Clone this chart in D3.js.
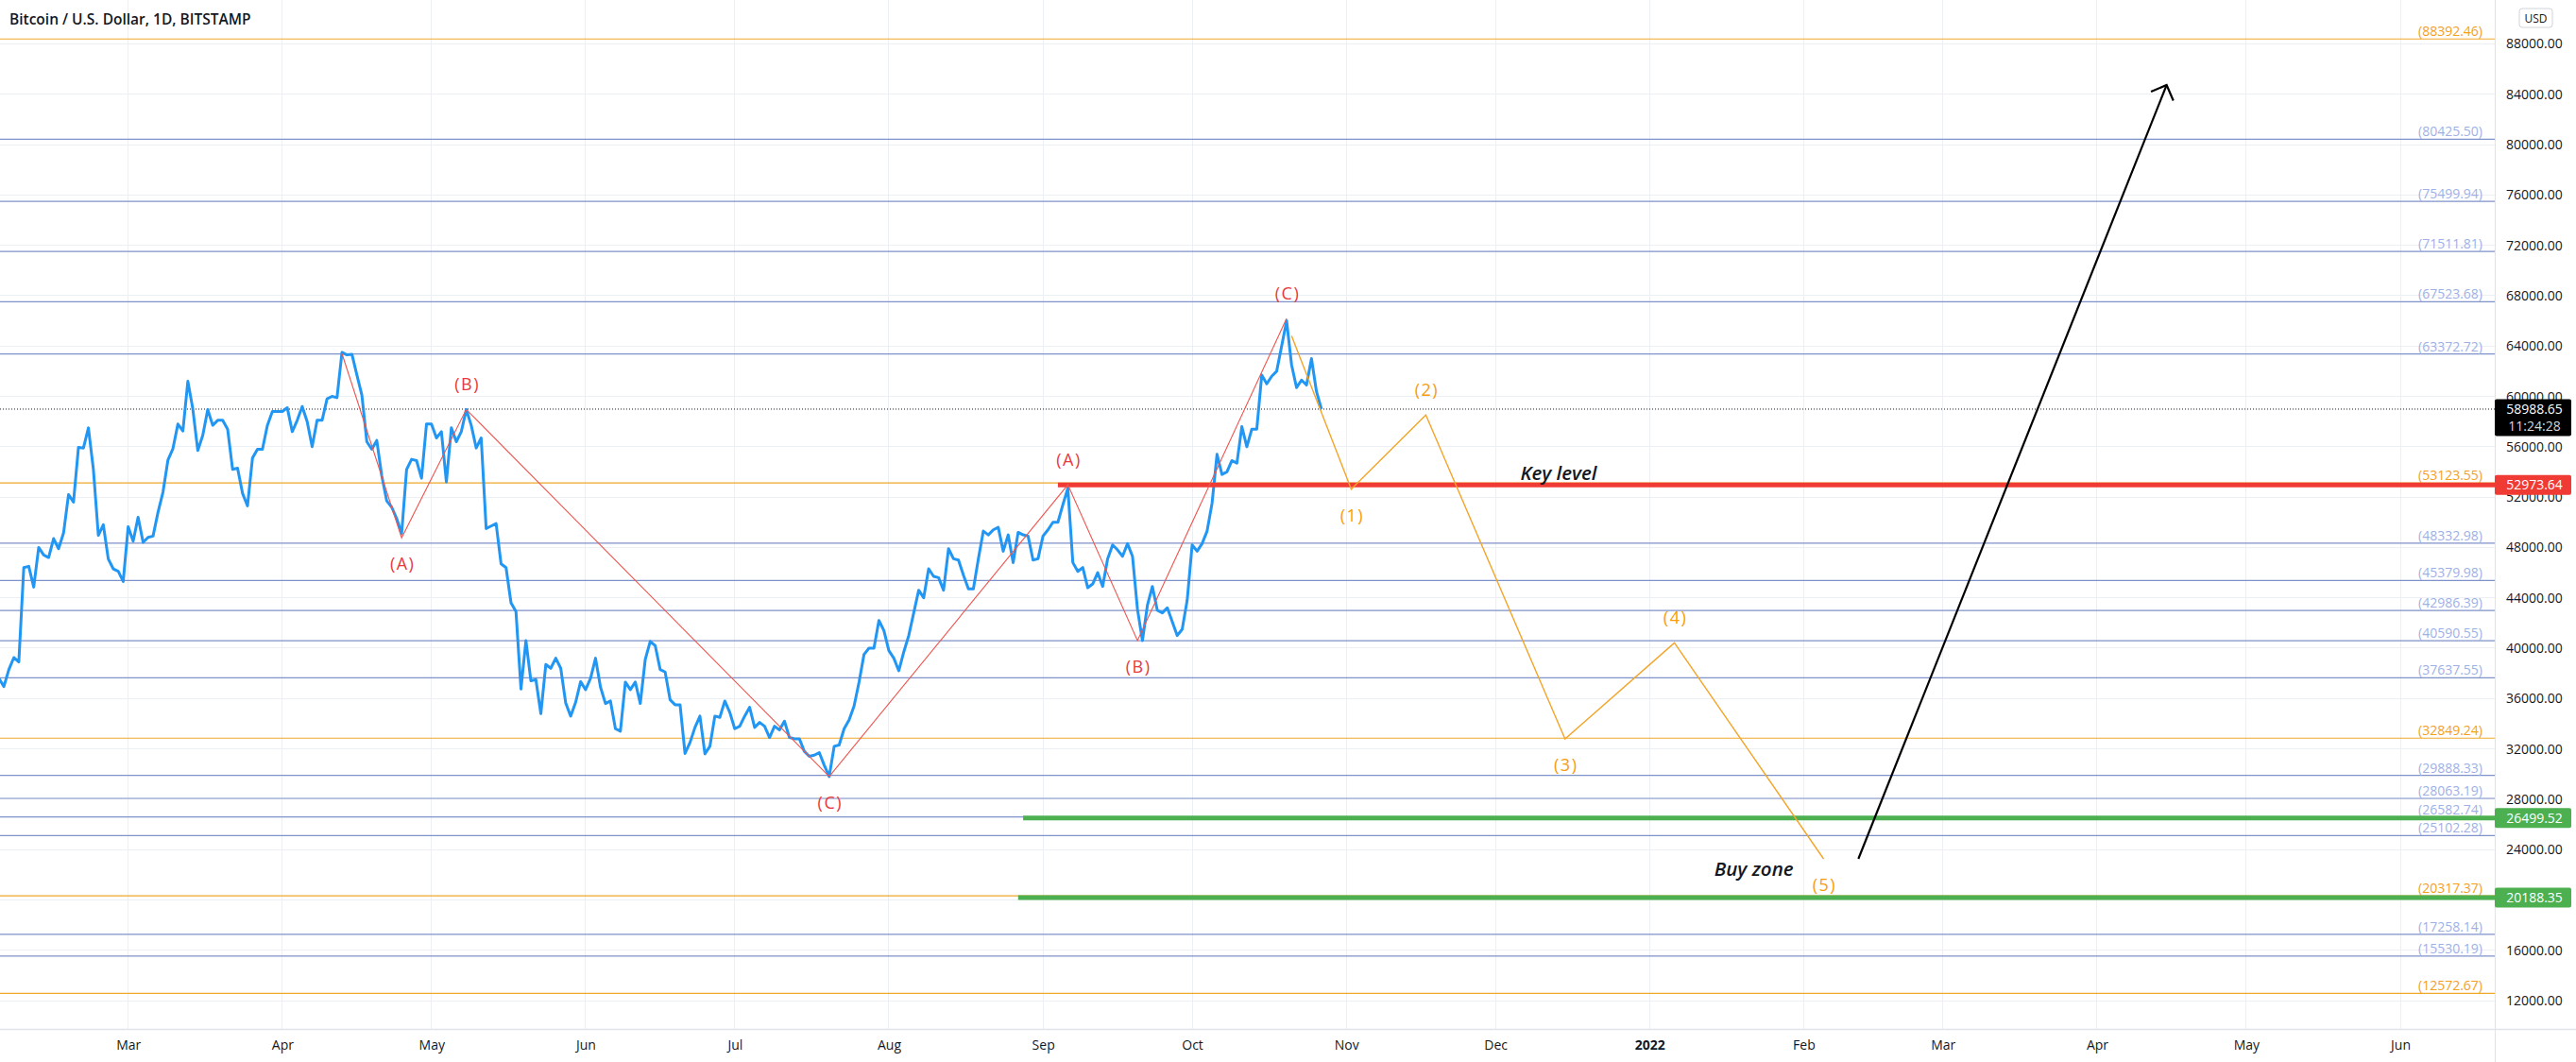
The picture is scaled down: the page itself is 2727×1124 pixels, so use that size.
<!DOCTYPE html>
<html><head><meta charset="utf-8">
<script src="https://cdn.jsdelivr.net/npm/d3@7"></script>
<style>
html,body{margin:0;padding:0;background:#fff;overflow:hidden;}
svg{display:block;font-family:"Open Sans",sans-serif;}
</style></head><body>
<script>
// ---------------- DATA ----------------
const title = "Bitcoin / U.S. Dollar, 1D, BITSTAMP";
const priceStart = "2021-02-02";   // first daily close below
const closes = [
 35500,37600,36950,38300,39250,38900,46400,46500,44850,48000,47400,47200,48700,47900,49150,52200,51600,55950,55900,57500,54200,48950,49800,47080,46300,46100,45300,
 49650,48500,50400,48400,48800,48900,50800,52400,54950,55850,57800,57250,61200,59000,55700,56900,58950,57700,58100,58100,57400,54200,54300,52300,51300,55100,55800,55800,57700,58800,58800,
 58800,59100,57200,58100,59200,58000,56000,58100,58100,59800,60000,59900,63500,63300,63350,61700,60100,56400,55800,56500,53700,51700,51200,50300,49100,54200,55000,54900,53500,57800,
 57800,56700,57200,53200,57500,56400,57200,58950,57700,55900,56700,49500,49700,49900,46700,46400,43600,42900,36750,40600,37400,37500,34800,38700,38400,39200,38400,35650,34600,35700,37340,
 36700,37600,39200,36900,35600,35800,33600,33400,37300,36700,37300,35600,39100,40540,40200,38300,38100,35900,35500,35500,31630,32500,33700,34600,31600,32200,34600,34500,35800,34900,
 33600,33800,34600,35300,33700,34100,33800,32900,33800,33500,34200,32900,32800,32800,31800,31400,31500,31700,30700,29800,32200,32300,33600,34300,35400,37300,39500,40000,40000,42200,41400,
 39800,39200,38200,39700,41000,42800,44600,44000,46300,45700,45600,44600,47900,47100,47000,45800,44700,44700,47100,49300,49000,49400,49600,47700,49000,46800,49200,49000,48900,47000,47100,
 48900,49400,50000,50000,51400,52700,46800,46100,46400,44800,45100,46000,44900,47100,48200,47800,47300,48300,47300,43100,40600,43400,44900,43000,42800,43200,42100,41000,41500,43800,
 48200,47700,48300,49300,51500,55400,53800,54000,54900,54700,57600,56000,57400,57400,61700,61000,61600,62000,64000,66000,62500,60700,61300,60900,63000,60400,58988.65
];
const lastPrice = 58988.65;
const countdown = "11:24:28";

const monthTicks  = ["2021-03-01","2021-04-01","2021-05-01","2021-06-01","2021-07-01","2021-08-01","2021-09-01","2021-10-01","2021-11-01","2021-12-01","2022-01-01","2022-02-01","2022-03-01","2022-04-01","2022-05-01","2022-06-01"];
const monthLabels = ["Mar","Apr","May","Jun","Jul","Aug","Sep","Oct","Nov","Dec","2022","Feb","Mar","Apr","May","Jun"];
const priceTicks  = [12000,16000,20000,24000,28000,32000,36000,40000,44000,48000,52000,56000,60000,64000,68000,72000,76000,80000,84000,88000];

const levelsOrange = [88392.46, 53123.55, 32849.24, 20317.37, 12572.67];
const levelsBlue   = [80425.50, 75499.94, 71511.81, 67523.68, 63372.72, 48332.98, 45379.98, 42986.39, 40590.55, 37637.55, 29888.33, 28063.19, 26582.74, 25102.28, 17258.14, 15530.19];

const keyLevel    = {value: 52973.64, start: "2021-09-04", text: "Key level", textDate: "2021-12-06"};
const greenLevels = [{value: 26499.52, start: "2021-08-28"}, {value: 20188.35, start: "2021-08-27"}];
const buyZone     = {text: "Buy zone", date: "2022-01-14", value: 21900};

const redWave1Dates  = ["2021-04-13","2021-04-25","2021-05-08","2021-07-20"];
const redWave1Values = [63400, 48760, 58965, 29805];
const redWave1Labels = [null, "(A)", "(B)", "(C)"];
const redWave1Place  = [null, "below", "above", "below"];

const redWave2Dates  = ["2021-07-20","2021-09-06","2021-09-20","2021-10-20"];
const redWave2Values = [29805, 52973, 40600, 66200];
const redWave2Labels = [null, "(A)", "(B)", "(C)"];
const redWave2Place  = [null, "above", "below", "above"];

const orangeWaveDates  = ["2021-10-21","2021-11-02","2021-11-17","2021-12-15","2022-01-06","2022-02-05"];
const orangeWaveValues = [64800, 52630, 58520, 32785, 40420, 23260];
const orangeWaveLabels = [null, "(1)", "(2)", "(3)", "(4)", "(5)"];
const orangeWavePlace  = [null, "below", "above", "below", "above", "below"];

const arrowDates  = ["2022-02-12","2022-04-15"];
const arrowValues = [23260, 84735];

// ---------------- CHART ----------------
const W = 2727, H = 1124, PR = 2641, PB = 1089;
const C = {grid:"#eceff4", text:"#131722", blueLine:"#2196f3", lvlBlue:"#7f92c9", lvlBlueTxt:"#9fb0e6",
           lvlOrange:"#eea82a", lvlOrangeTxt:"#f5a01a", red:"#f03a34", redThin:"#ee5650", redTxt:"#e8393f",
           orange:"#f3a52a", orangeTxt:"#f89c0e", green:"#4caf50"};
const parse = d3.utcParse("%Y-%m-%d");
const fmt = d3.format(".2f");

const x = d3.scaleUtc().domain([parse("2021-03-01"), parse("2022-06-01")]).range([135.7, 2541]);
const y = d3.scaleLinear().domain([12000, 88000]).range([1059, 46.5]);

const svg = d3.select("body").append("svg").attr("width", W).attr("height", H);
svg.append("rect").attr("width", W).attr("height", H).attr("fill", "#fff");
svg.append("defs").append("clipPath").attr("id", "plotclip")
   .append("rect").attr("x", 0).attr("y", 0).attr("width", PR).attr("height", PB);
const plot = svg.append("g").attr("clip-path", "url(#plotclip)");

// grid
plot.append("g").selectAll("line").data(monthTicks.map(parse)).join("line")
  .attr("x1", d => x(d)).attr("x2", d => x(d)).attr("y1", 0).attr("y2", PB)
  .attr("stroke", C.grid).attr("stroke-width", 1).attr("shape-rendering", "crispEdges");
plot.append("g").selectAll("line").data(priceTicks).join("line")
  .attr("x1", 0).attr("x2", PR).attr("y1", d => y(d)).attr("y2", d => y(d))
  .attr("stroke", C.grid).attr("stroke-width", 1).attr("shape-rendering", "crispEdges");

// level lines
function levels(vals, lineColor, txtColor) {
  const g = plot.append("g");
  g.selectAll("line").data(vals).join("line")
    .attr("x1", 0).attr("x2", PR).attr("y1", d => y(d)).attr("y2", d => y(d))
    .attr("stroke", lineColor).attr("stroke-width", 1.2);
  g.selectAll("text").data(vals).join("text")
    .attr("x", 2628).attr("y", d => y(d) - 3).attr("text-anchor", "end")
    .attr("font-size", 14).attr("fill", txtColor).text(d => "(" + fmt(d) + ")");
}
levels(levelsBlue, C.lvlBlue, C.lvlBlueTxt);
levels(levelsOrange, C.lvlOrange, C.lvlOrangeTxt);

// current price dotted line
plot.append("line").attr("x1", 0).attr("x2", PR).attr("y1", y(lastPrice)).attr("y2", y(lastPrice))
  .attr("stroke", "#131722").attr("stroke-width", 1).attr("stroke-dasharray", "1,2");

// price series
const day0 = parse(priceStart);
const series = closes.map((v, i) => ({date: d3.utcDay.offset(day0, i), value: v}));
plot.append("path").datum(series)
  .attr("d", d3.line().x(d => x(d.date)).y(d => y(d.value)))
  .attr("fill", "none").attr("stroke", C.blueLine).attr("stroke-width", 3).attr("stroke-linejoin", "round");

// key level & green zones
plot.append("line").attr("x1", x(parse(keyLevel.start))).attr("x2", PR)
  .attr("y1", y(keyLevel.value)).attr("y2", y(keyLevel.value))
  .attr("stroke", C.red).attr("stroke-width", 5);
plot.append("g").selectAll("line").data(greenLevels).join("line")
  .attr("x1", d => x(parse(d.start))).attr("x2", PR)
  .attr("y1", d => y(d.value)).attr("y2", d => y(d.value))
  .attr("stroke", C.green).attr("stroke-width", 5);

plot.append("text").attr("x", x(parse(keyLevel.textDate))).attr("y", y(keyLevel.value) - 5)
  .attr("font-size", 20.5).attr("font-style", "italic").attr("font-weight", 600).attr("fill", C.text)
  .text(keyLevel.text);
plot.append("text").attr("x", x(parse(buyZone.date))).attr("y", y(buyZone.value))
  .attr("font-size", 20.5).attr("font-style", "italic").attr("font-weight", 600).attr("fill", C.text)
  .text(buyZone.text);

// waves
function wave(dates, vals, labels, places, lineColor, txtColor, width) {
  const pts = dates.map((d, i) => ({date: parse(d), value: vals[i], label: labels[i], place: places[i]}));
  plot.append("path").datum(pts)
    .attr("d", d3.line().x(d => x(d.date)).y(d => y(d.value)))
    .attr("fill", "none").attr("stroke", lineColor).attr("stroke-width", width).attr("stroke-linejoin", "miter");
  plot.append("g").selectAll("text").data(pts.filter(p => p.label)).join("text")
    .attr("x", d => x(d.date) + 1).attr("y", d => y(d.value) + (d.place === "below" ? 29 : -25) + 5)
    .attr("text-anchor", "middle").attr("font-size", 18).attr("letter-spacing", 1.5)
    .attr("fill", txtColor).text(d => d.label);
}
wave(redWave1Dates, redWave1Values, redWave1Labels, redWave1Place, C.redThin, C.redTxt, 1.1);
wave(redWave2Dates, redWave2Values, redWave2Labels, redWave2Place, C.redThin, C.redTxt, 1.1);
wave(orangeWaveDates, orangeWaveValues, orangeWaveLabels, orangeWavePlace, C.orange, C.orangeTxt, 1.4);

// arrow
const a0 = [x(parse(arrowDates[0])), y(arrowValues[0])];
const a1 = [x(parse(arrowDates[1])), y(arrowValues[1])];
const ang = Math.atan2(a1[1] - a0[1], a1[0] - a0[0]);
const hl = 18, ha = Math.PI / 4;
const w1 = [a1[0] - hl * Math.cos(ang - ha), a1[1] - hl * Math.sin(ang - ha)];
const w2 = [a1[0] - hl * Math.cos(ang + ha), a1[1] - hl * Math.sin(ang + ha)];
plot.append("path").attr("d", d3.line()([a0, a1]))
  .attr("stroke", "#000").attr("stroke-width", 2.2).attr("fill", "none");
plot.append("path").attr("d", d3.line()([w1, a1, w2]))
  .attr("stroke", "#000").attr("stroke-width", 2.2).attr("fill", "none").attr("stroke-linejoin", "miter");

// ---------------- AXES ----------------
svg.append("line").attr("x1", PR + 0.5).attr("x2", PR + 0.5).attr("y1", 0).attr("y2", H)
  .attr("stroke", "#e0e3eb");
svg.append("line").attr("x1", 0).attr("x2", W).attr("y1", PB + 0.5).attr("y2", PB + 0.5)
  .attr("stroke", "#e0e3eb").attr("stroke-width", 1.5);

const yAxis = svg.append("g").attr("transform", `translate(${PR},0)`)
  .call(d3.axisRight(y).tickValues(priceTicks).tickFormat(fmt).tickSize(0).tickPadding(12));
yAxis.select(".domain").remove();
yAxis.selectAll("text").attr("font-size", 14).attr("fill", C.text).attr("font-family", "Open Sans");

const xAxis = svg.append("g").attr("transform", `translate(0,${PB})`)
  .call(d3.axisBottom(x).tickValues(monthTicks.map(parse)).tickFormat((d, i) => monthLabels[i]).tickSize(0).tickPadding(12));
xAxis.select(".domain").remove();
xAxis.selectAll("text").attr("font-size", 14).attr("fill", C.text).attr("font-family", "Open Sans")
  .attr("font-weight", (d, i) => monthLabels[i] === "2022" ? 700 : 400);

// USD badge
svg.append("rect").attr("x", 2667).attr("y", 9).attr("width", 35).attr("height", 20).attr("rx", 3)
  .attr("fill", "#fff").attr("stroke", "#d1d4dc");
svg.append("text").attr("x", 2684.5).attr("y", 23.5).attr("text-anchor", "middle").attr("font-size", 12)
  .attr("fill", C.text).text("USD");

// price boxes
function box(v, fill, lines) {
  const cy = y(v);
  const h = lines.length > 1 ? 39 : 21;
  svg.append("rect").attr("x", PR).attr("y", cy - 10.5).attr("width", 81).attr("height", h).attr("rx", 2).attr("fill", fill);
  lines.forEach((t, i) => {
    svg.append("text").attr("x", PR + 42).attr("y", cy + 5 + i * 18.5).attr("text-anchor", "middle")
      .attr("font-size", 14).attr("fill", i === 0 ? "#fff" : "#d8d8d8").text(t);
  });
}
box(lastPrice, "#000", [fmt(lastPrice), countdown]);
box(keyLevel.value, C.red, [fmt(keyLevel.value)]);
greenLevels.forEach(g => box(g.value, C.green, [fmt(g.value)]));

// title
svg.append("text").attr("x", 10).attr("y", 26).attr("font-size", 15.5).attr("font-weight", 600)
  .attr("fill", C.text).text(title);
</script>
</body></html>
